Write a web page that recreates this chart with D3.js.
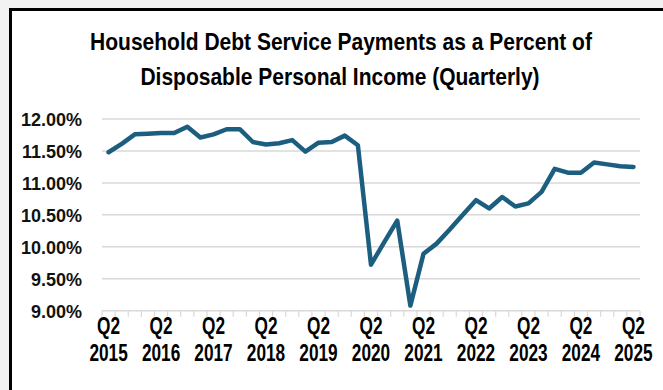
<!DOCTYPE html>
<html>
<head>
<meta charset="utf-8">
<script src="https://cdn.jsdelivr.net/npm/d3@7"></script>
<style>
  html, body { margin: 0; padding: 0; background: #f2f2f2; }
  svg { display: block; }
</style>
</head>
<body>
<svg id="chart" width="663" height="390"></svg>
<script>
// Quarterly series, Q2 2015 through Q2 2025
const quarters = [
  "2015Q2","2015Q3","2015Q4",
  "2016Q1","2016Q2","2016Q3","2016Q4",
  "2017Q1","2017Q2","2017Q3","2017Q4",
  "2018Q1","2018Q2","2018Q3","2018Q4",
  "2019Q1","2019Q2","2019Q3","2019Q4",
  "2020Q1","2020Q2","2020Q3","2020Q4",
  "2021Q1","2021Q2","2021Q3","2021Q4",
  "2022Q1","2022Q2","2022Q3","2022Q4",
  "2023Q1","2023Q2","2023Q3","2023Q4",
  "2024Q1","2024Q2","2024Q3","2024Q4",
  "2025Q1","2025Q2"
];
// Debt service payments, percent of disposable personal income
const debtService = [
  11.48, 11.61, 11.76,
  11.77, 11.78, 11.78, 11.88,
  11.71, 11.76, 11.84, 11.84,
  11.64, 11.60, 11.62, 11.67,
  11.49, 11.63, 11.64, 11.74,
  11.59, 9.72, 10.07, 10.41,
  9.08, 9.89, 10.05, 10.27,
  10.50, 10.73, 10.60, 10.78,
  10.63, 10.68, 10.86, 11.22,
  11.16, 11.16, 11.32, 11.29,
  11.26, 11.25
];
const yTicks = [9.0, 9.5, 10.0, 10.5, 11.0, 11.5, 12.0];
const titleLines = [
  "Household Debt Service Payments as a Percent of",
  "Disposable Personal Income (Quarterly)"
];

const svg = d3.select("#chart");
const W = 663, H = 390;
const plot = { left: 102, right: 640, top: 119, bottom: 310.7 };
const sans = "'Liberation Sans',Arial,sans-serif";
const lineColor = "#1c5e7f";
const gridColor = "#d9d9d9";

// condensed bold text: a regular bold face squeezed horizontally
function narrowText(parent, x, y, str, size, squeeze) {
  return parent.append("text")
    .attr("transform", `translate(${x},${y}) scale(${squeeze},1)`)
    .attr("text-anchor", "middle")
    .attr("font-family", sans).attr("font-weight", "bold")
    .attr("font-size", size).attr("fill", "#000")
    .text(str);
}

// white chart panel with a heavy black frame on the left and top
svg.append("rect").attr("x", 0).attr("y", 0).attr("width", W).attr("height", H).attr("fill", "#f2f2f2");
svg.append("rect").attr("x", 10.5).attr("y", 9.5).attr("width", W + 20).attr("height", H + 20)
  .attr("fill", "#ffffff").attr("stroke", "#000").attr("stroke-width", 3);

// title, squeezed so the first line spans its width
const title = svg.append("g");
const titleY = [50, 85];
const t0 = narrowText(title, 341, titleY[0], titleLines[0], 24, 1);
const natural = t0.node().getComputedTextLength();
const titleSqueeze = natural > 0 ? 502 / natural : 0.8;
t0.attr("transform", `translate(341,${titleY[0]}) scale(${titleSqueeze},1)`);
narrowText(title, 340, titleY[1], titleLines[1], 24, titleSqueeze);

// scales
const x = d3.scaleBand().domain(quarters).range([plot.left, plot.right]).padding(0);
const y = d3.scaleLinear().domain([9, 12]).range([plot.bottom, plot.top]);
const cx = q => x(q) + x.bandwidth() / 2;

// horizontal gridlines
svg.append("g").selectAll("line").data(yTicks.filter(v => v > 9)).join("line")
  .attr("x1", plot.left).attr("x2", plot.right)
  .attr("y1", d => y(d)).attr("y2", d => y(d))
  .attr("stroke", gridColor).attr("stroke-width", 1.5);

// y axis labels
const yAxis = d3.axisLeft(y).tickValues(yTicks).tickSize(0).tickPadding(0)
  .tickFormat(d => d.toFixed(2) + "%");
const yG = svg.append("g").attr("transform", `translate(82,0)`).call(yAxis);
yG.select(".domain").remove();
yG.selectAll("text")
  .attr("font-family", sans)
  .attr("font-weight", "bold").attr("font-size", 18).attr("fill", "#111")
  .attr("dy", "0.35em");

// x axis baseline with category-boundary tick marks
const xG = svg.append("g");
xG.append("line").attr("x1", plot.left).attr("x2", plot.right)
  .attr("y1", plot.bottom).attr("y2", plot.bottom)
  .attr("stroke", gridColor).attr("stroke-width", 1.5);
const boundaries = quarters.map(q => x(q)).concat([plot.right]);
xG.selectAll("line.tick").data(boundaries).join("line").attr("class", "tick")
  .attr("x1", d => d).attr("x2", d => d)
  .attr("y1", plot.bottom).attr("y2", plot.bottom + 6)
  .attr("stroke", gridColor).attr("stroke-width", 1.2);

// two-line labels on every Q2
quarters.filter(q => q.endsWith("Q2")).forEach(q => {
  narrowText(xG, cx(q), 334, q.slice(4), 23, 0.75);
  narrowText(xG, cx(q), 361, q.slice(0, 4), 23, 0.75);
});

// series line
const line = d3.line().x((d, i) => cx(quarters[i])).y(d => y(d));
svg.append("path").datum(debtService)
  .attr("d", line)
  .attr("fill", "none").attr("stroke", lineColor)
  .attr("stroke-width", 4.5).attr("stroke-linejoin", "round").attr("stroke-linecap", "round");
</script>
</body>
</html>
